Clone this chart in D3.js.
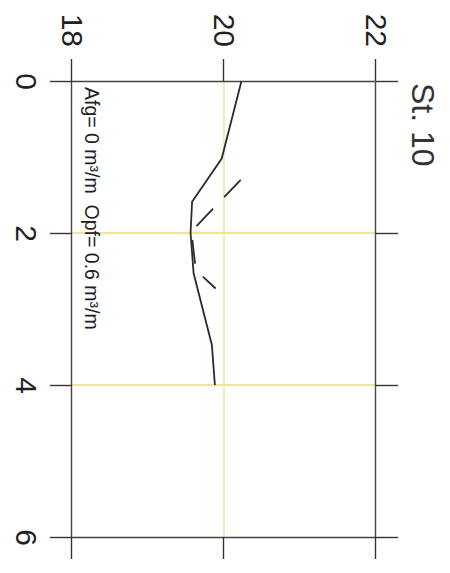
<!DOCTYPE html>
<html>
<head>
<meta charset="utf-8">
<script src="https://cdn.jsdelivr.net/npm/d3@7"></script>
<style>
  body { margin: 0; background: #fff; }
  svg { display: block; font-family: "Liberation Sans", Arial, sans-serif; }
</style>
</head>
<body>
<svg width="450" height="573"></svg>
<script>
// chart data (depth along x, value along y in the unrotated chart)
const depthTicks = [0, 2, 4, 6];
const valueTicks = [18, 20, 22];
const gridDepth = [2, 4];
const gridValue = [20];

const solidDepth = [0, 1.02, 1.59, 2.0, 2.53, 3.47, 4.0];
const solidValue = [20.23, 19.97, 19.58, 19.56, 19.6, 19.84, 19.88];

const dashDepth = [1.3, 1.98, 2.49, 2.73];
const dashValue = [20.22, 19.57, 19.63, 19.89];

const title = "St. 10";
const note = "Afg= 0 m\u00b3/m  Opf= 0.6 m\u00b3/m";

function drawChart() {
  const svg = d3.select("svg");
  const W = +svg.attr("width");

  // the scanned chart is turned a quarter turn clockwise
  const g = svg.append("g").attr("transform", `translate(${W},0) rotate(90)`);

  const scX = d3.scaleLinear().domain([0, 6]).range([81, 537]);
  const scY = d3.scaleLinear().domain([18, 22]).range([378, 74]);

  // yellow grid
  g.append("g")
    .selectAll("line")
    .data(gridDepth)
    .enter()
    .append("line")
    .attr("x1", (d) => scX(d))
    .attr("x2", (d) => scX(d))
    .attr("y1", scY(18))
    .attr("y2", scY(22))
    .style("stroke", "#f2da6e")
    .style("stroke-width", 1.6);

  g.append("g")
    .selectAll("line")
    .data(gridValue)
    .enter()
    .append("line")
    .attr("x1", scX(0))
    .attr("x2", scX(6))
    .attr("y1", (d) => scY(d))
    .attr("y2", (d) => scY(d))
    .style("stroke", "#f5e7a0")
    .style("stroke-width", 1.6);

  const tick = 22;
  const axes = [
    [d3.axisBottom(scX).tickValues(depthTicks).tickPadding(13), 0, scY(18), true],
    [d3.axisTop(scX).tickValues(depthTicks), 0, scY(22), false],
    [d3.axisLeft(scY).tickValues(valueTicks).tickPadding(12), scX(0), 0, true],
    [d3.axisRight(scY).tickValues(valueTicks), scX(6), 0, false],
  ];

  axes.forEach(([axis, tx, ty, labels]) => {
    const a = g
      .append("g")
      .attr("transform", `translate(${tx},${ty})`)
      .call(axis.tickSizeInner(tick).tickSizeOuter(0));
    a.select(".domain").style("stroke", "#444").style("stroke-width", 1.4);
    a.selectAll(".tick line").style("stroke", "#333").style("stroke-width", 1.4);
    a.selectAll(".tick text")
      .style("font-size", "30px")
      .style("font-family", '"Liberation Sans", Arial, sans-serif')
      .style("fill", "#222")
      .text((d) => (labels ? d : ""));
  });

  // solid profile
  const line = d3
    .line()
    .x((d) => scX(d[0]))
    .y((d) => scY(d[1]));

  g.append("path")
    .datum(d3.zip(solidDepth, solidValue))
    .attr("d", line)
    .style("fill", "none")
    .style("stroke", "#2b2b2b")
    .style("stroke-width", 1.8);

  g.append("path")
    .datum(d3.zip(dashDepth, dashValue))
    .attr("d", line)
    .style("fill", "none")
    .style("stroke", "#2b2b2b")
    .style("stroke-width", 1.8)
    .style("stroke-dasharray", "24,16");

  g.append("text")
    .attr("x", 83)
    .attr("y", 38)
    .style("font-size", "32px")
    .style("fill", "#333")
    .text(title);

  g.append("text")
    .attr("x", 87)
    .attr("y", 365)
    .style("font-size", "19.5px")
    .style("white-space", "pre")
    .style("fill", "#222")
    .text(note);
}

drawChart();
</script>
</body>
</html>
